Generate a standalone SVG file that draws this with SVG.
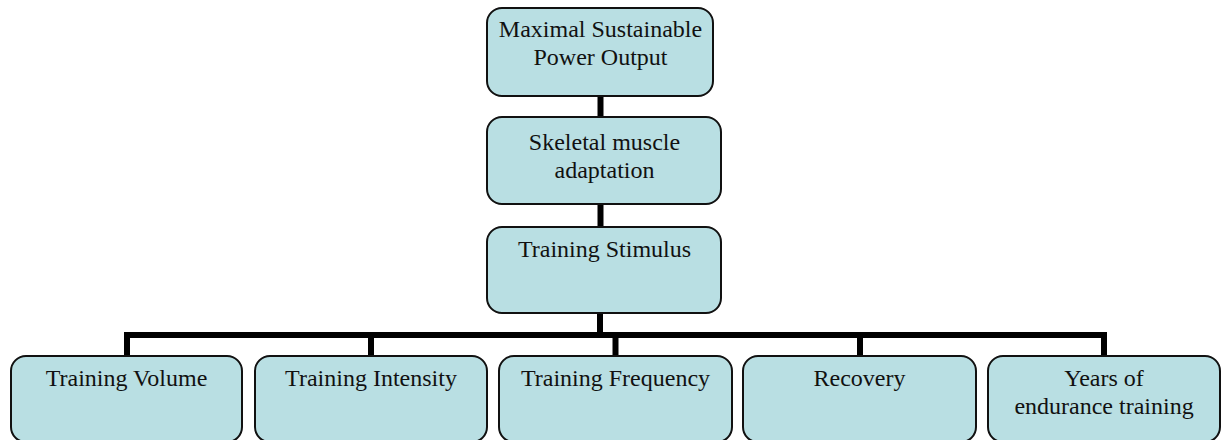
<svg xmlns="http://www.w3.org/2000/svg" width="1223" height="440" viewBox="0 0 1223 440">
<style>
.box{fill:#B9DFE3;stroke:#111;stroke-width:2}
.t{font-family:"Liberation Serif","Times New Roman",serif;font-size:24px;fill:#111;text-anchor:middle}
.c{fill:none;stroke:#000;stroke-width:6;stroke-linejoin:miter}
</style>
<rect width="1223" height="440" fill="#fff"/>
<g id="connectors">
<path class="c" d="M600.5,96 V117"/>
<path class="c" d="M600.5,204 V227"/>
<path class="c" d="M600,313 V335"/>
<path class="c" d="M127,356 V335 H1104 V356"/>
<path class="c" d="M371,335 V356"/>
<path class="c" d="M615.5,335 V356"/>
<path class="c" d="M860,335 V356"/>
</g>
<g id="n-maximal">
<rect class="box" x="487" y="8" width="226" height="88" rx="15"/>
<text class="t" x="600.5" y="37">Maximal Sustainable</text>
<text class="t" x="600.5" y="65">Power Output</text>
</g>
<g id="n-skeletal">
<rect class="box" x="487" y="117" width="234" height="87" rx="15"/>
<text class="t" x="604.5" y="150">Skeletal muscle</text>
<text class="t" x="604.5" y="178">adaptation</text>
</g>
<g id="n-stimulus">
<rect class="box" x="487" y="227" width="234" height="86" rx="15"/>
<text class="t" x="604.5" y="257">Training Stimulus</text>
</g>
<g id="n-volume">
<rect class="box" x="11" y="356" width="231" height="86" rx="15"/>
<text class="t" x="126.5" y="386">Training Volume</text>
</g>
<g id="n-intensity">
<rect class="box" x="255" y="356" width="232" height="86" rx="15"/>
<text class="t" x="371" y="386">Training Intensity</text>
</g>
<g id="n-frequency">
<rect class="box" x="499" y="356" width="233" height="86" rx="15"/>
<text class="t" x="615.5" y="386">Training Frequency</text>
</g>
<g id="n-recovery">
<rect class="box" x="743" y="356" width="233" height="86" rx="15"/>
<text class="t" x="859.5" y="386">Recovery</text>
</g>
<g id="n-years">
<rect class="box" x="988" y="356" width="232" height="86" rx="15"/>
<text class="t" x="1104" y="386">Years of</text>
<text class="t" x="1104" y="414">endurance training</text>
</g>
</svg>
